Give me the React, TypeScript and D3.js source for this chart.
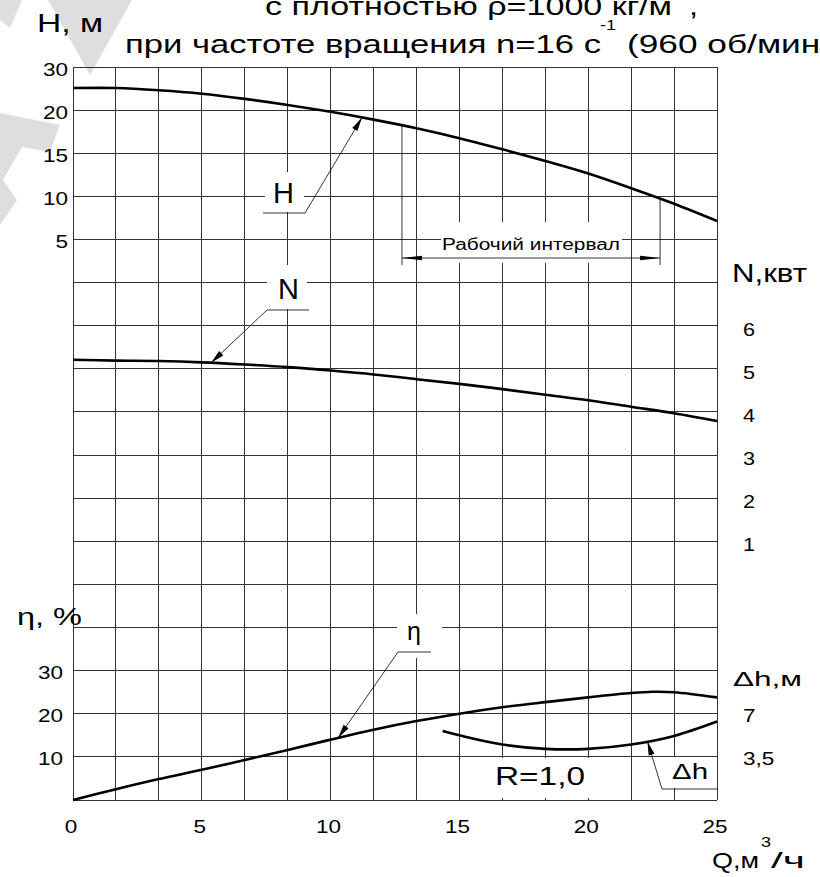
import React from 'react';
import * as d3 from 'd3';

// ---------- data ----------
const qPts = [0, 1.667, 3.333, 5, 6.667, 8.333, 10, 11.667, 13.333, 15, 16.667, 18.333, 20, 21.667, 23.333, 25];
const headVals = [22.56, 22.56, 22.3, 21.9, 21.3, 20.6, 19.8, 18.9, 17.9, 16.75, 15.45, 14.1, 12.65, 10.95, 9.15, 7.15];
const powerVals = [5.21, 5.19, 5.18, 5.15, 5.10, 5.04, 4.96, 4.87, 4.76, 4.65, 4.53, 4.40, 4.27, 4.12, 3.97, 3.79];
const qEta = [0, 1.667, 3.333, 5, 6.667, 8.333, 10, 11.667, 13.333, 15, 16.667, 18.333, 20, 21.667, 22.5, 23.333, 25];
const etaVals = [0, 2.5, 4.85, 7.0, 9.3, 11.6, 14.0, 16.3, 18.3, 20.0, 21.5, 22.7, 23.8, 24.8, 25.1, 25.0, 23.8];
const qDh = [14.35, 15, 16.667, 18.333, 20, 21.667, 23.333, 25];
const dhVals = [5.6, 5.25, 4.5, 4.15, 4.15, 4.5, 5.2, 6.37];
const workRange = [12.77, 22.79];

const qTicks = [0, 5, 10, 15, 20, 25];
const hTickVals = [25, 20, 15, 10, 5];
const hTickLabels = ['30', '20', '15', '10', '5'];
const nTicks = [6, 5, 4, 3, 2, 1];
const etaTicks = [30, 20, 10];
const dhTickVals = [7, 3.5];
const dhTickLabels = ['7', '3,5'];

// ---------- layout ----------
const W = 820, H = 877;
const X0 = 73, X1 = 717, Y0 = 67, Y1 = 800;
const rowH = (Y1 - Y0) / 17;
const xS = d3.scaleLinear().domain([0, 25]).range([X0, X1]);
const yH = d3.scaleLinear().domain([-60, 25]).range([Y1, Y0]);
const yN = d3.scaleLinear().domain([0, 12]).range([Y0 + 12 * rowH, Y0]);
const yEta = d3.scaleLinear().domain([0, 170]).range([Y1, Y0]);
const yDh = d3.scaleLinear().domain([0, 59.5]).range([Y1, Y0]);

const FONT = "'Liberation Sans', Arial, Helvetica, sans-serif";

const interp = (qs: number[], vs: number[], q: number) =>
  d3.scaleLinear().domain(qs).range(vs)(q);

const lineGen = (ys: d3.ScaleLinear<number, number>) =>
  d3.line<[number, number]>()
    .x(d => xS(d[0]))
    .y(d => ys(d[1]))
    .curve(d3.curveCatmullRom.alpha(0.5));

function arrowHead(fx: number, fy: number, tx: number, ty: number, len = 14, hw = 3) {
  const dx = tx - fx, dy = ty - fy;
  const L = Math.hypot(dx, dy);
  const ux = dx / L, uy = dy / L;
  const bx = tx - ux * len, by = ty - uy * len;
  const px = -uy * hw, py = ux * hw;
  return `${tx},${ty} ${bx + px},${by + py} ${bx - px},${by - py}`;
}

const T = ({ x, y, size, len, anchor = 'start', sx = 1, children }: any) => {
  if (len) {
    return (
      <text x={x} y={y} fontSize={size} fontFamily={FONT} textLength={len}
        lengthAdjust="spacingAndGlyphs" textAnchor={anchor} fill="#000">{children}</text>
    );
  }
  return (
    <text transform={`translate(${x},${y}) scale(${sx},1)`} fontSize={size}
      fontFamily={FONT} textAnchor={anchor} fill="#000">{children}</text>
  );
};

const Leader = ({ ux0, ux1, uy, qTip, qs, vs, ys, from }: any) => {
  const tx = xS(qTip);
  const ty = ys(interp(qs, vs, qTip));
  const fx = from === 'left' ? ux0 : ux1;
  return (
    <g>
      <line x1={ux0} y1={uy} x2={ux1} y2={uy} stroke="#000" strokeWidth={0.8} />
      <line x1={fx} y1={uy} x2={tx} y2={ty} stroke="#000" strokeWidth={0.8} />
      <polygon points={arrowHead(fx, uy, tx, ty)} fill="#000" />
    </g>
  );
};

export default function App() {
  const vLines = d3.range(0, 16).map(i => xS((i * 25) / 15));
  const hLines = d3.range(0, 18).map(i => yH(25 - 5 * i));

  const headPath = lineGen(yH)(qPts.map((q, i) => [q, headVals[i]]))!;
  const powerPath = lineGen(yN)(qPts.map((q, i) => [q, powerVals[i]]))!;
  const etaPath = lineGen(yEta)(qEta.map((q, i) => [q, etaVals[i]]))!;
  const dhPath = lineGen(yDh)(qDh.map((q, i) => [q, dhVals[i]]))!;

  const wx0 = xS(workRange[0]), wx1 = xS(workRange[1]);
  const wy0 = yH(interp(qPts, headVals, workRange[0]));
  const wy1 = yH(interp(qPts, headVals, workRange[1]));
  const dimY = 258, extBottom = 265;

  return (
    <div style={{ position: 'absolute', left: 0, top: 0, width: W, height: H, overflow: 'hidden', background: '#fff' }}>
      <svg width={W} height={H} viewBox={`0 0 ${W} ${H}`} style={{ display: 'block' }}>
        <rect width={W} height={H} fill="#fff" />
        {/* watermark */}
        <g fill="#dedede">
          <polygon points="0,0 22,0 10,28 0,20" />
          <polygon points="48,0 132,0 90,75" />
          <polygon points="0,113 60,125 50,152 22,147 3,180 17,200 0,225" />
        </g>

        {/* grid */}
        <g stroke="#333" strokeWidth={1} shapeRendering="crispEdges">
          {vLines.map((x, i) => (
            <line key={'v' + i} x1={x} y1={Y0} x2={x} y2={Y1} />
          ))}
          {hLines.map((y, i) => (
            <line key={'h' + i} x1={X0} y1={y} x2={X1} y2={y} />
          ))}
        </g>

        {/* label masks */}
        <g fill="#fff">
          <rect x={265} y={172} width={39} height={40} />
          <rect x={267} y={265} width={40} height={44} />
          <rect x={441} y={222} width={181} height={41} />
          <rect x={397} y={614} width={45} height={44} />
          <rect x={664} y={757} width={52} height={31} />
          <rect x={490} y={758} width={100} height={40} />
        </g>

        {/* curves */}
        <g fill="none" stroke="#000" strokeWidth={2.6} strokeLinejoin="round">
          <path d={headPath} />
          <path d={powerPath} />
          <path d={etaPath} />
          <path d={dhPath} />
        </g>

        {/* working interval */}
        <g stroke="#000" strokeWidth={0.8}>
          <line x1={wx0} y1={wy0} x2={wx0} y2={extBottom} />
          <line x1={wx1} y1={wy1} x2={wx1} y2={extBottom} />
          <line x1={wx0} y1={dimY} x2={wx1} y2={dimY} />
        </g>
        <polygon points={arrowHead(wx0 + 20, dimY, wx0, dimY, 20, 2.2)} fill="#000" />
        <polygon points={arrowHead(wx1 - 20, dimY, wx1, dimY, 20, 2.2)} fill="#000" />
        <T x={442} y={250} size={16} len={178}>Рабочий интервал</T>

        {/* leaders */}
        <Leader ux0={263} ux1={305} uy={213} qTip={11.22} qs={qPts} vs={headVals} ys={yH} from="right" />
        <Leader ux0={267} ux1={309} uy={310} qTip={5.36} qs={qPts} vs={powerVals} ys={yN} from="left" />
        <Leader ux0={398} ux1={431} uy={652} qTip={10.29} qs={qEta} vs={etaVals} ys={yEta} from="left" />
        <Leader ux0={662} ux1={717} uy={789} qTip={22.3} qs={qDh} vs={dhVals} ys={yDh} from="left" />

        {/* curve labels */}
        <T x={283.5} y={203} size={29} anchor="middle">H</T>
        <T x={288.5} y={299} size={29} anchor="middle">N</T>
        <T x={414} y={640} size={25} anchor="middle">η</T>
        <T x={672} y={779} size={22} len={36}>Δh</T>
        <T x={495} y={785} size={25} len={90}>R=1,0</T>

        {/* H ticks */}
        {hTickVals.map((v, i) => (
          <T key={'ht' + i} x={68} y={yH(v) + 9} size={18} anchor="end" sx={1.25}>{hTickLabels[i]}</T>
        ))}
        {/* N ticks */}
        {nTicks.map((v, i) => (
          <T key={'nt' + i} x={743} y={yN(v) + 10} size={18} sx={1.2}>{String(v)}</T>
        ))}
        {/* eta ticks */}
        {etaTicks.map((v, i) => (
          <T key={'et' + i} x={63} y={yEta(v) + 8} size={18} anchor="end" sx={1.25}>{String(v)}</T>
        ))}
        {/* dh ticks */}
        {dhTickVals.map((v, i) => (
          <T key={'dt' + i} x={743} y={yDh(v) + 8} size={18} sx={1.25}>{dhTickLabels[i]}</T>
        ))}
        {/* Q ticks */}
        {qTicks.map((v, i) => (
          <T key={'qt' + i} x={xS(v) - 2} y={833} size={18} anchor="middle" sx={1.25}>{String(v)}</T>
        ))}

        {/* axis titles */}
        <T x={37} y={32} size={25} len={66}>H, м</T>
        <T x={732} y={282} size={26} len={75}>N,квт</T>
        <T x={17} y={625} size={23} len={65}>η, %</T>
        <T x={733} y={686} size={20} len={69}>Δh,м</T>
        <T x={712} y={868} size={22} len={47}>Q,м</T>
        <T x={761} y={847} size={15} sx={1.2}>3</T>
        <T x={771} y={868} size={22} len={34}>/ч</T>

        {/* title */}
        <T x={265} y={15} size={25} len={407}>с плотностью ρ=1000 кг/м</T>
        <T x={676} y={0} size={15} sx={1.2}>3</T>
        <T x={689} y={15} size={25} sx={1.3}>,</T>
        <T x={125} y={53} size={25} len={476}>при частоте вращения n=16 с</T>
        <T x={600} y={30} size={15} sx={1.2}>-1</T>
        <T x={627} y={53} size={25} len={205}>(960 об/мин)</T>
      </svg>
    </div>
  );
}
